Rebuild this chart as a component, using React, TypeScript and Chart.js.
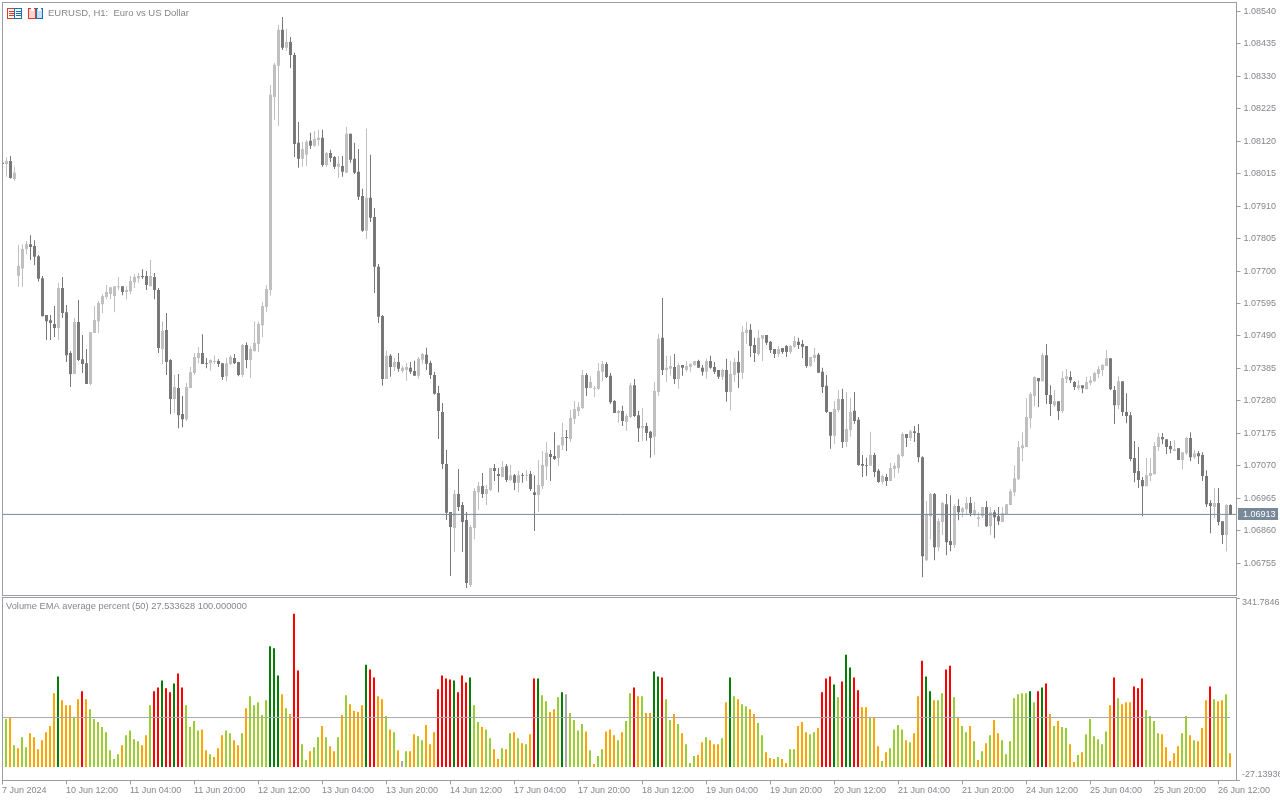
import React, { useEffect, useRef } from "react";
import { Chart, registerables } from "chart.js";

Chart.register(...registerables);

// Prices are stored as points (0.00001) above 1.06000
const PRICE_BASE = 1.06;
const POINT = 0.00001;

const opens = [
2050,2046,2056,1998,1685,1708,1771,1787,1781,1748,
1677,1558,1541,1529,1516,1645,1567,1435,1367,1535,
1415,1402,1335,1500,1538,1593,1616,1626,1619,1648,
1651,1632,1635,1664,1677,1684,1684,1651,1681,1639,
1448,1509,1412,1286,1322,1238,1221,1322,1370,1419,
1435,1402,1402,1406,1409,1402,1360,1399,1419,1406,
1364,1461,1412,1441,1464,1525,1584,1639,2263,2364,
2480,2422,2441,2399,2115,2063,2076,2121,2105,2124,
2131,2043,2082,2069,2037,2040,2018,2144,2063,2021,
1943,1830,1937,1875,1714,1555,1351,1426,1390,1406,
1377,1380,1387,1377,1361,1413,1429,1403,1364,1306,
1244,1076,921,869,979,943,895,685,869,985,
1005,979,992,1063,1044,1034,1069,1024,1040,1015,
1040,1037,1044,985,976,1005,1069,1108,1102,1095,
1137,1163,1157,1222,1247,1257,1364,1322,1319,1319,
1374,1399,1361,1280,1241,1247,1212,1228,1331,1234,
1193,1199,1180,1164,1309,1484,1380,1384,1390,1351,
1396,1380,1390,1396,1409,1387,1374,1409,1390,1380,
1358,1380,1309,1364,1406,1371,1500,1510,1461,1432,
1481,1493,1471,1448,1432,1451,1458,1438,1455,1471,
1464,1458,1393,1419,1429,1374,1329,1244,1167,1251,
1286,1147,1186,1248,1219,1076,1073,1070,1105,1054,
1018,1034,1021,1060,1063,1102,1173,1160,1182,1176,
1098,765,907,979,807,888,946,827,814,940,
920,930,950,911,898,907,937,875,920,907,
888,914,943,985,1027,1127,1131,1224,1296,1354,
1344,1428,1299,1266,1279,1247,1350,1357,1341,1321,
1331,1318,1338,1344,1367,1380,1393,1418,1315,1266,
1344,1244,1234,1095,1053,1024,1004,1037,1043,1131,
1163,1156,1134,1118,1127,1089,1111,1160,1098,1111,
1105,1037,950,937,950,891,846,943,
];

const closes = [
2046,2056,2001,2018,1716,1771,1787,1778,1746,1675,
1554,1538,1532,1516,1645,1564,1428,1367,1535,1412,
1399,1335,1503,1542,1597,1619,1632,1648,1651,1651,
1632,1639,1668,1681,1684,1681,1655,1684,1639,1451,
1506,1406,1286,1325,1234,1221,1325,1373,1422,1435,
1399,1399,1412,1409,1399,1357,1402,1422,1402,1364,
1461,1412,1448,1467,1529,1587,1642,2270,2367,2480,
2422,2441,2399,2111,2063,2095,2118,2105,2127,2131,
2043,2082,2066,2037,2047,2021,2144,2060,2018,1940,
1830,1937,1872,1714,1552,1351,1426,1390,1406,1384,
1387,1390,1374,1361,1416,1432,1400,1364,1303,1247,
1076,918,872,979,937,888,691,872,989,1005,
979,995,1063,1053,1037,1066,1024,1040,1015,1040,
1037,1040,995,976,1008,1073,1112,1099,1092,1137,
1163,1160,1225,1254,1260,1364,1322,1341,1322,1377,
1399,1357,1276,1241,1247,1215,1231,1331,1231,1192,
1199,1176,1160,1312,1481,1380,1387,1393,1351,1396,
1387,1393,1400,1409,1387,1374,1409,1387,1374,1358,
1380,1309,1367,1406,1371,1503,1510,1458,1435,1484,
1493,1468,1445,1432,1448,1438,1438,1458,1474,1461,
1455,1393,1422,1429,1371,1325,1244,1167,1254,1286,
1147,1189,1244,1215,1073,1070,1070,1105,1050,1018,
1037,1021,1063,1070,1105,1173,1160,1182,1176,1098,
778,914,979,807,891,950,823,814,940,920,
933,950,917,927,904,937,875,920,904,891,
917,946,988,1030,1131,1137,1228,1302,1357,1344,
1428,1299,1270,1279,1247,1354,1360,1347,1325,1331,
1321,1341,1347,1370,1383,1396,1418,1318,1266,1344,
1244,1231,1092,1047,1024,1004,1040,1047,1134,1163,
1156,1131,1124,1124,1089,1114,1160,1098,1111,1101,
1037,946,940,950,888,846,943,911,
];

const highs = [
2051,2068,2072,2037,1784,1787,1797,1816,1800,1752,
1684,1558,1558,1587,1661,1681,1590,1441,1548,1606,
1493,1448,1503,1587,1603,1626,1655,1648,1651,1681,
1651,1651,1684,1690,1694,1706,1700,1736,1694,1645,
1538,1564,1415,1364,1367,1296,1338,1390,1435,1454,
1496,1419,1415,1428,1415,1402,1419,1428,1432,1406,
1464,1470,1457,1538,1538,1600,1655,2302,2373,2496,
2522,2483,2457,2406,2182,2118,2124,2147,2153,2157,
2157,2085,2092,2072,2072,2072,2166,2144,2115,2095,
1966,2160,2076,1904,1723,1558,1442,1432,1419,1435,
1393,1403,1406,1410,1422,1435,1452,1410,1374,1328,
1273,1121,921,992,1060,953,921,879,998,1018,
1047,1008,1063,1076,1063,1086,1076,1073,1044,1053,
1047,1057,1053,1040,1089,1118,1147,1121,1179,1137,
1209,1186,1251,1280,1276,1380,1370,1361,1328,1403,
1409,1406,1370,1283,1251,1264,1238,1338,1351,1247,
1257,1209,1183,1341,1497,1613,1426,1426,1432,1403,
1396,1409,1400,1409,1413,1396,1416,1426,1406,1380,
1384,1416,1409,1419,1442,1523,1536,1529,1484,1510,
1493,1493,1474,1448,1458,1451,1461,1461,1490,1484,
1477,1458,1422,1451,1435,1387,1364,1244,1280,1316,
1319,1309,1290,1309,1228,1105,1096,1180,1112,1060,
1041,1044,1080,1080,1109,1179,1173,1186,1199,1205,
1101,956,982,982,901,953,979,975,946,962,
937,969,969,953,920,937,956,937,927,937,
937,946,995,1072,1150,1179,1289,1308,1360,1354,
1435,1464,1331,1315,1279,1376,1383,1376,1344,1347,
1331,1357,1360,1373,1393,1399,1444,1418,1328,1360,
1344,1305,1244,1150,1131,1034,1095,1095,1147,1176,
1176,1156,1150,1153,1127,1114,1163,1179,1121,1118,
1114,1056,959,998,998,891,946,946,
];

const lows = [
2045,2005,1999,1992,1649,1649,1755,1736,1719,1666,
1554,1477,1477,1487,1477,1548,1406,1325,1367,1409,
1370,1335,1331,1500,1500,1564,1609,1609,1567,1639,
1622,1609,1626,1645,1661,1674,1639,1651,1609,1435,
1399,1364,1238,1241,1192,1195,1215,1322,1364,1402,
1399,1386,1377,1399,1390,1348,1344,1396,1399,1360,
1357,1386,1354,1441,1438,1487,1567,1620,2189,2170,
2415,2412,2357,2069,2034,2037,2040,2095,2102,2105,
2037,2037,2053,2030,2001,2005,2018,2050,2014,1930,
1827,1804,1859,1629,1532,1329,1351,1358,1377,1374,
1371,1345,1367,1361,1351,1400,1380,1351,1300,1157,
1060,895,714,791,924,791,675,678,833,927,
966,943,989,1021,985,1034,1018,1021,992,985,
1015,1021,989,859,921,995,1024,1021,1089,1069,
1121,1118,1147,1205,1231,1254,1296,1322,1293,1315,
1344,1354,1270,1241,1209,1199,1183,1225,1228,1147,
1151,1151,1096,1105,1296,1364,1341,1361,1335,1319,
1361,1374,1374,1393,1387,1361,1351,1384,1367,1351,
1348,1277,1248,1341,1322,1351,1464,1422,1406,1426,
1409,1461,1435,1419,1422,1432,1422,1432,1451,1448,
1419,1387,1390,1406,1371,1306,1241,1125,1141,1244,
1128,1131,1164,1206,1070,1034,1037,1070,1034,1015,
1012,1005,1021,1031,1047,1098,1131,1150,1147,1082,
710,762,833,765,794,846,781,794,804,894,
904,914,907,907,872,901,872,846,836,878,
888,914,943,972,1024,1085,1131,1192,1263,1260,
1344,1270,1231,1260,1218,1241,1338,1338,1315,1315,
1305,1318,1331,1341,1354,1360,1393,1315,1205,1254,
1231,1208,1085,1017,998,907,1004,1021,1043,1118,
1140,1108,1111,1118,1089,1059,1105,1085,1092,1076,
1021,937,852,901,878,817,794,911,
];

const volumes = [
0,97,99,44,38,60,40,68,60,36,
54,70,83,149,183,135,125,125,100,137,
153,137,117,97,91,81,70,34,16,26,
44,64,74,56,52,44,64,125,153,161,
175,159,151,169,189,161,125,81,93,74,
76,34,26,20,38,64,74,68,54,44,
68,119,143,125,131,105,135,244,240,185,
147,119,107,310,195,46,14,32,40,60,
83,60,42,32,60,105,145,127,113,111,
125,207,197,181,143,137,103,76,70,34,
12,32,32,66,62,54,85,46,70,157,
185,179,177,175,151,185,171,181,125,91,
81,76,58,36,16,38,36,68,70,58,
48,46,66,179,179,145,133,111,117,141,
151,147,109,95,74,87,72,34,6,22,
36,72,76,64,54,70,93,149,161,143,
143,109,109,193,183,181,137,95,107,87,
68,46,8,22,24,50,60,54,46,46,
58,131,181,143,137,127,123,117,107,89,
64,30,18,16,20,16,8,36,36,83,
91,70,66,70,79,151,179,183,167,141,
173,227,201,181,155,121,121,99,99,42,
12,30,38,76,85,76,54,50,68,143,
215,183,153,135,135,149,197,205,141,99,
83,70,83,52,14,32,48,64,95,68,
54,26,52,139,147,149,149,153,131,153,
161,169,107,83,93,81,79,46,10,24,
30,66,97,62,56,46,72,125,181,139,
127,131,131,163,159,179,115,103,93,68,
66,40,12,28,42,68,103,64,54,52,
79,135,163,137,133,135,147,28,
];

// O orange, G yellow-green, D dark green, R red, S grey
const volumeColorCodes =
  "GGOGOGGOOO" + "OOOODOOOGO" + "ROGGGGGGGG" + "OGGGGOOGRR" + "DRRDRRGGGG" +
  "OOGOOOGGOO" + "GOGGGGGDDD" + "OGORRGGOGG" + "OGOOGOGOOO" + "ODRROOGOGO" +
  "SGOOGGOOOR" + "RRRDRRRDGG" + "OGGOOGOGOG" + "OGORDGGOOG" + "DSGGGGOGOG" +
  "GOOOGOGGRO" + "GOODDRGGOG" + "OGGGOOGOOO" + "GODGOGGOOG" + "GOOOGOOGGO" +
  "OOGGORRRDG" + "RDDRROOGOO" + "GOGGGGOGOO" + "RDDOGGRRGO" + "GGOGOGOGOO" +
  "GGGGGGGDGR" + "DROGOGGOOG" + "OGGGGGGORG" + "OOORRRGGGG" + "OOOOOGGOGO" +
  "OORGOOGO";

const timeTickIndexes = [0,16,32,48,64,80,96,112,128,144,160,176,192,208,224,240,256,272,288,304];
const timeTickLabels = [
  "7 Jun 2024","10 Jun 12:00","11 Jun 04:00","11 Jun 20:00","12 Jun 12:00",
  "13 Jun 04:00","13 Jun 20:00","14 Jun 12:00","17 Jun 04:00","17 Jun 20:00",
  "18 Jun 12:00","19 Jun 04:00","19 Jun 20:00","20 Jun 12:00","21 Jun 04:00",
  "21 Jun 20:00","24 Jun 12:00","25 Jun 04:00","25 Jun 20:00","26 Jun 12:00",
];
const priceTicks = [
  1.0854,1.08435,1.0833,1.08225,1.0812,1.08015,1.0791,1.07805,1.077,
  1.07595,1.0749,1.07385,1.0728,1.07175,1.0707,1.06965,1.0686,1.06755,
];
const volumeAxisTicks = [341.7846, -27.13936];
const volumeAxisLabels = ["341.7846", "-27.13936"];

const currentPrice = 1.06913;
const levelValue = 100;
const chartTitle = "EURUSD, H1:  Euro vs US Dollar";
const indicatorTitle = "Volume EMA average percent (50) 27.533628 100.000000";

const PRICE_MIN = 1.066507;
const PRICE_MAX = 1.085685;
const X_MAX = 308.5;

const FAMILY = '"Liberation Sans"';
const FONT_SIZE = 9;
const FONT = `${FONT_SIZE}px ${FAMILY}`;
const TITLE_FONT = `9.5px ${FAMILY}`;
const INDICATOR_FONT = `9.3px ${FAMILY}`;
const TEXT = "#85858d";
const FRAME = "#9c9ca3";
const BULL = "#c0c0c0";
const BEAR = "#787878";
const PRICE_LINE = "#778899";
const VOLUME_COLORS: Record<string, string> = {
  O: "#ffa500", G: "#9acd32", D: "#008000", R: "#ff0000", S: "#a9a9a9",
};

const toPrice = (p: number) => PRICE_BASE + p * POINT;
const candleColor = opens.map((o, i) => (closes[i] >= o ? BULL : BEAR));

function drawIcons(ctx: CanvasRenderingContext2D) {
  const red = "#e0392b";
  const blue = "#1c6fb5";
  ctx.save();
  ctx.lineWidth = 1;
  ctx.strokeStyle = red;
  ctx.strokeRect(7.5, 8.5, 7, 10);
  ctx.strokeStyle = blue;
  ctx.strokeRect(14.5, 8.5, 7, 10);
  ctx.fillStyle = red;
  ctx.fillRect(9, 11, 5, 1);
  ctx.fillRect(9, 13, 5, 1);
  ctx.fillRect(9, 15, 5, 1);
  ctx.fillStyle = blue;
  ctx.fillRect(16, 11, 5, 1);
  ctx.fillRect(16, 13, 5, 1);
  ctx.fillRect(16, 15, 5, 1);
  ctx.fillStyle = "#fbd5cf";
  ctx.fillRect(28, 8, 7, 11);
  ctx.fillStyle = "#c5e0f5";
  ctx.fillRect(36, 8, 7, 11);
  ctx.strokeStyle = red;
  ctx.strokeRect(28.5, 8.5, 7, 10);
  ctx.strokeStyle = blue;
  ctx.strokeRect(36.5, 8.5, 6, 10);
  ctx.fillStyle = "#ffffff";
  ctx.fillRect(31, 8, 3, 3);
  ctx.fillRect(38, 8, 3, 3);
  ctx.restore();
}

const framePlugin = (top: number, bottom: number) => ({
  id: "frame",
  afterDatasetsDraw(chart: any) {
    const ctx = chart.ctx;
    ctx.save();
    ctx.strokeStyle = FRAME;
    ctx.lineWidth = 1;
    ctx.strokeRect(2.5, top, 1234, bottom - top);
    ctx.restore();
  },
});

const mainOverlay = {
  id: "mainOverlay",
  afterDraw(chart: any) {
    const ctx = chart.ctx;
    const y = chart.scales.y.getPixelForValue(currentPrice);
    ctx.save();
    ctx.fillStyle = PRICE_LINE;
    ctx.fillRect(1238, Math.round(y) - 6, 40, 12);
    ctx.fillStyle = "#ffffff";
    ctx.font = FONT;
    ctx.textBaseline = "middle";
    ctx.textAlign = "left";
    ctx.fillText(currentPrice.toFixed(5), 1243, Math.round(y) + 0.5);
    drawIcons(ctx);
    ctx.fillStyle = TEXT;
    ctx.font = TITLE_FONT;
    ctx.fillText(chartTitle, 48, 13.5);
    ctx.restore();
  },
};

const volumeOverlay = {
  id: "volumeOverlay",
  afterDraw(chart: any) {
    const ctx = chart.ctx;
    ctx.save();
    ctx.fillStyle = TEXT;
    ctx.font = INDICATOR_FONT;
    ctx.textBaseline = "middle";
    ctx.textAlign = "left";
    ctx.fillText(indicatorTitle, 6, 10.5);
    ctx.font = FONT;
    ctx.fillText(volumeAxisLabels[0], 1242, 7);
    ctx.fillText(volumeAxisLabels[1], 1242, 178.5);
    ctx.restore();
  },
};

export default function App() {
  const mainRef = useRef<HTMLCanvasElement>(null);
  const volRef = useRef<HTMLCanvasElement>(null);

  useEffect(() => {
    document.body.style.margin = "0";
    document.body.style.background = "#ffffff";

    const index = opens.map((_, i) => i);

    const main = new Chart(mainRef.current!, {
      type: "bar",
      data: {
        datasets: [
          {
            type: "line",
            data: [{ x: 0, y: currentPrice }, { x: X_MAX, y: currentPrice }],
            borderColor: PRICE_LINE,
            borderWidth: 1,
            pointRadius: 0,
            order: 0,
          },
          {
            type: "bar",
            data: index.map((i) => ({ x: i, y: [toPrice(opens[i]), toPrice(closes[i])] })),
            backgroundColor: candleColor,
            barThickness: 3,
            grouped: false,
            borderWidth: 0,
            inflateAmount: 0,
            order: 1,
          },
          {
            type: "bar",
            data: index.map((i) => ({ x: i, y: [toPrice(lows[i]), toPrice(highs[i])] })),
            backgroundColor: candleColor,
            barThickness: 1,
            grouped: false,
            borderWidth: 0,
            inflateAmount: 0,
            order: 2,
          },
        ],
      } as any,
      options: {
        animation: false,
        responsive: false,
        events: [],
        layout: { padding: { left: 2.5, top: 2.5, right: 0, bottom: 0.5 } },
        plugins: { legend: { display: false }, tooltip: { enabled: false }, title: { display: false } },
        scales: {
          x: {
            type: "linear",
            display: false,
            offset: false,
            min: 0,
            max: X_MAX,
            grid: { offset: false },
          },
          y: {
            type: "linear",
            position: "right",
            min: PRICE_MIN,
            max: PRICE_MAX,
            afterBuildTicks: (s: any) => {
              s.ticks = priceTicks.map((value) => ({ value }));
            },
            afterFit: (s: any) => {
              s.width = 43.5;
              s.paddingTop = 0;
              s.paddingBottom = 0;
            },
            border: { color: FRAME },
            grid: { drawOnChartArea: false, drawTicks: true, tickLength: 4, color: FRAME },
            ticks: {
              autoSkip: false,
              padding: 3,
              color: TEXT,
              font: { family: FAMILY, size: FONT_SIZE },
              callback: (v: any) => Number(v).toFixed(5),
            },
          },
        },
      } as any,
      plugins: [framePlugin(2.5, 595.5), mainOverlay],
    } as any);

    const vol = new Chart(volRef.current!, {
      type: "bar",
      data: {
        datasets: [
          {
            type: "line",
            data: [{ x: 0, y: levelValue }, { x: 307, y: levelValue }],
            borderColor: "#a9a9a9",
            borderWidth: 1,
            pointRadius: 0,
            order: 0,
          },
          {
            type: "bar",
            data: index.map((i) => ({ x: i, y: volumes[i] })),
            backgroundColor: index.map((i) => VOLUME_COLORS[volumeColorCodes[i]]),
            barThickness: 2,
            borderWidth: 0,
            inflateAmount: 0,
            order: 1,
          },
        ],
      } as any,
      options: {
        animation: false,
        responsive: false,
        events: [],
        layout: { padding: { left: 2, top: 2, right: 0, bottom: 0 } },
        plugins: { legend: { display: false }, tooltip: { enabled: false }, title: { display: false } },
        scales: {
          x: {
            type: "linear",
            position: "bottom",
            offset: false,
            min: 0,
            max: X_MAX,
            afterBuildTicks: (s: any) => {
              s.ticks = timeTickIndexes.map((value) => ({ value }));
            },
            afterFit: (s: any) => {
              s.height = 19.6;
              s.paddingLeft = 0;
              s.paddingRight = 0;
            },
            border: { color: FRAME },
            grid: { offset: false, drawOnChartArea: false, drawTicks: true, tickLength: 4, color: FRAME },
            ticks: {
              autoSkip: false,
              maxRotation: 0,
              minRotation: 0,
              align: "start",
              padding: 1,
              color: TEXT,
              font: { family: FAMILY, size: FONT_SIZE },
              callback: (v: any) => timeTickLabels[timeTickIndexes.indexOf(Number(v))] ?? "",
            },
          },
          y: {
            type: "linear",
            position: "right",
            min: volumeAxisTicks[1],
            max: volumeAxisTicks[0],
            afterBuildTicks: (s: any) => {
              s.ticks = volumeAxisTicks.map((value) => ({ value }));
            },
            afterFit: (s: any) => {
              s.width = 44;
              s.paddingTop = 0;
              s.paddingBottom = 0;
            },
            border: { color: FRAME },
            grid: { drawOnChartArea: false, drawTicks: true, tickLength: 4, color: FRAME },
            ticks: { autoSkip: false, callback: () => "" },
          },
        },
      } as any,
      plugins: [framePlugin(1.5, 184.5), volumeOverlay],
    } as any);

    return () => {
      main.destroy();
      vol.destroy();
    };
  }, []);

  return (
    <div style={{ position: "relative", width: 1280, height: 800, background: "#fff" }}>
      <canvas ref={mainRef} width={1280} height={596} style={{ position: "absolute", left: 0, top: 0, width: 1280, height: 596 }} />
      <canvas ref={volRef} width={1280} height={204} style={{ position: "absolute", left: 0, top: 596, width: 1280, height: 204 }} />
    </div>
  );
}
